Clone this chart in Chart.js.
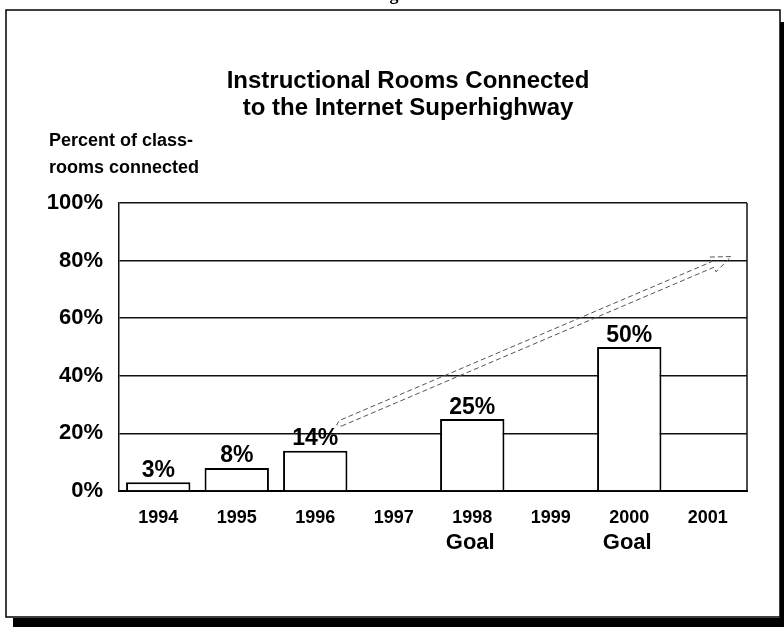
<!DOCTYPE html>
<html>
<head>
<meta charset="utf-8">
<script src="https://cdn.jsdelivr.net/npm/chart.js@4/dist/chart.umd.min.js"></script>
<style>
  html, body { margin: 0; padding: 0; background: #fff; }
  canvas { display: block; }
</style>
</head>
<body>
<canvas id="chart" width="784" height="627"></canvas>
<script>
const years = ['1994', '1995', '1996', '1997', '1998', '1999', '2000', '2001']
const connected = [3, 8, 14, null, 25, null, 50, null]
const goalYears = ['1998', '2000']
const yTicks = [0, 20, 40, 60, 80, 100]
const titleLines = ['Instructional Rooms Connected', 'to the Internet Superhighway']
const yTitleLines = ['Percent of class-', 'rooms connected']
// trend arrow: [category position, percent]
const arrowFrom = [2.32, 23.5]
const arrowTo = [7.3, 81.4]

const FONT = '"Liberation Sans", Arial, Helvetica, sans-serif'

const decorations = {
    id: 'decorations',
    beforeDraw(chart) {
        const ctx = chart.ctx
        ctx.save()
        ctx.fillStyle = '#fff'
        ctx.fillRect(0, 0, chart.width, chart.height)

        // scanned page frame
        ctx.strokeStyle = '#000'
        ctx.lineWidth = 1.5
        ctx.strokeRect(6, 10, 774, 607)
        ctx.fillStyle = '#000'
        ctx.fillRect(13, 618, 771, 9)
        ctx.fillRect(780, 22, 4, 605)

        // cut-off caption above the frame
        ctx.font = 'bold 18px "Liberation Serif", serif'
        ctx.textAlign = 'center'
        ctx.textBaseline = 'alphabetic'
        ctx.fillText('Figure 10', 410, 0)

        // title
        ctx.font = 'bold 24px ' + FONT
        titleLines.forEach((t, i) => ctx.fillText(t, 408, 88 + i * 27))

        // y axis title
        ctx.textAlign = 'left'
        ctx.font = 'bold 18px ' + FONT
        yTitleLines.forEach((t, i) => ctx.fillText(t, 49, 146 + i * 27))
        ctx.restore()
    },
    afterDraw(chart) {
        const ctx = chart.ctx
        const {top, bottom, right} = chart.chartArea
        const x = chart.scales.x
        const y = chart.scales.y
        ctx.save()

        // right edge of the plot box
        ctx.strokeStyle = '#111'
        ctx.lineWidth = 1.5
        ctx.beginPath()
        ctx.moveTo(right, top)
        ctx.lineTo(right, bottom)
        ctx.stroke()

        // "Goal" under the goal years
        ctx.fillStyle = '#000'
        ctx.font = 'bold 22px ' + FONT
        ctx.textAlign = 'center'
        ctx.textBaseline = 'alphabetic'
        goalYears.forEach(g => {
            ctx.fillText('Goal', x.getPixelForValue(years.indexOf(g)) - 2, 549)
        })

        // hollow dashed trend arrow
        const x0 = x.getPixelForValue(arrowFrom[0]), y0 = y.getPixelForValue(arrowFrom[1])
        const x1 = x.getPixelForValue(arrowTo[0]), y1 = y.getPixelForValue(arrowTo[1])
        const len = Math.hypot(x1 - x0, y1 - y0)
        const ux = (x1 - x0) / len, uy = (y1 - y0) / len
        const nx = -uy, ny = ux
        const w = 3, h = 8, L = 20
        const bx = x1 - ux * L, by = y1 - uy * L
        ctx.strokeStyle = '#555'
        ctx.lineWidth = 1
        ctx.setLineDash([5, 3])
        ctx.beginPath()
        ctx.moveTo(x0 + nx * w, y0 + ny * w)
        ctx.lineTo(bx + nx * w, by + ny * w)
        ctx.lineTo(bx + nx * h, by + ny * h)
        ctx.lineTo(x1, y1)
        ctx.lineTo(bx - nx * h, by - ny * h)
        ctx.lineTo(bx - nx * w, by - ny * w)
        ctx.lineTo(x0 - nx * w, y0 - ny * w)
        ctx.lineTo(x0 - ux * 4, y0 - uy * 4)
        ctx.closePath()
        ctx.stroke()
        ctx.restore()
    },
    afterDatasetsDraw(chart) {
        const ctx = chart.ctx
        const meta = chart.getDatasetMeta(0)
        ctx.save()
        ctx.fillStyle = '#000'
        ctx.font = 'bold 23px ' + FONT
        ctx.textAlign = 'center'
        ctx.textBaseline = 'alphabetic'
        meta.data.forEach((bar, i) => {
            const v = connected[i]
            if (v === null) return
            ctx.fillText(v + '%', bar.x, bar.y - 5.5)
        })
        ctx.restore()
    }
}

new Chart(document.getElementById('chart'), {
    type: 'bar',
    data: {
        labels: years,
        datasets: [{
            label: 'Percent of classrooms connected',
            data: connected,
            backgroundColor: '#fff',
            borderColor: '#000',
            borderWidth: 2,
            categoryPercentage: 1,
            barPercentage: 0.82
        }]
    },
    options: {
        responsive: false,
        animation: false,
        layout: { padding: { top: 203, right: 37, left: 0, bottom: 0 } },
        plugins: {
            legend: { display: false },
            tooltip: { enabled: false }
        },
        scales: {
            x: {
                grid: { display: false, drawTicks: false },
                border: { display: true, color: '#000', width: 2 },
                ticks: {
                    color: '#000',
                    font: { family: FONT, size: 18, weight: 'bold' },
                    padding: 16,
                    maxRotation: 0
                },
                afterFit(scale) { scale.height = 136 }
            },
            y: {
                min: 0,
                max: 100,
                afterBuildTicks(scale) { scale.ticks = yTicks.map(v => ({value: v})) },
                grid: { color: '#111', lineWidth: 1.5, drawTicks: false },
                border: { display: true, color: '#111', width: 1.5 },
                ticks: {
                    color: '#000',
                    font: { family: FONT, size: 22, weight: 'bold' },
                    padding: 16,
                    callback: v => v + '%'
                },
                afterFit(scale) { scale.width = 119 }
            }
        }
    },
    plugins: [decorations]
})
</script>
</body>
</html>
